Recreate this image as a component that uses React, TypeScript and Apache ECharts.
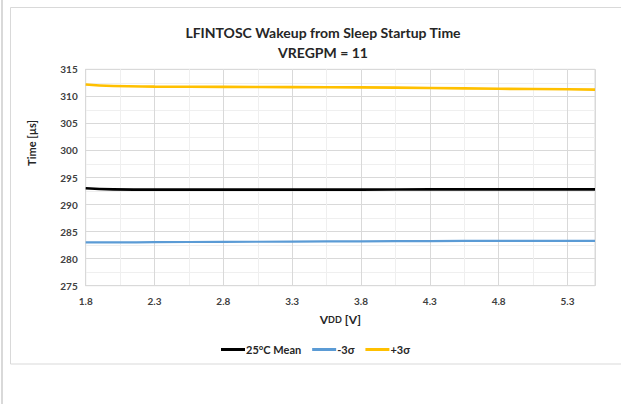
import React, { useEffect, useRef } from "react";
import * as echarts from "echarts";

const vdd = [1.8, 2.0, 2.3, 2.8, 3.3, 3.8, 4.3, 4.8, 5.3, 5.5];
const meanVals = [293.0, 292.8, 292.75, 292.75, 292.75, 292.75, 292.8, 292.8, 292.8, 292.8];
const minusVals = [283.0, 283.0, 283.05, 283.1, 283.15, 283.2, 283.25, 283.3, 283.3, 283.3];
const plusVals = [312.2, 311.9, 311.8, 311.75, 311.7, 311.65, 311.55, 311.4, 311.3, 311.25];
const seriesNames = ["25°C Mean", "-3σ", "+3σ"];
const seriesColors = ["#000000", "#5b9bd5", "#ffc000"];
const xStart = 1.8;
const xEnd = 5.5;
const yMin = 275;
const yMax = 315;

const FONT = "Lato, 'Open Sans', sans-serif";

export default function App() {
  const ref = useRef<HTMLDivElement>(null);
  useEffect(() => {
    document.body.style.margin = "0";
    const chart = echarts.init(ref.current!, null, { renderer: "svg" });
    const toPts = (vals: number[]) => vdd.map((x, i) => [+(x - xStart).toFixed(3), vals[i]]);
    const allVals = [meanVals, minusVals, plusVals];
    chart.setOption({
      animation: false,
      textStyle: { fontFamily: FONT },
      graphic: [
        { type: "rect", shape: { x: 1, y: 0, width: 2, height: 404 }, style: { fill: "#d9d9d9" }, silent: true },
        { type: "rect", shape: { x: 10.5, y: 7.5, width: 640, height: 356.5 }, style: { fill: "none", stroke: "#d9d9d9", lineWidth: 1 }, silent: true },
        {
          type: "text", x: 323, y: 32,
          style: { text: "LFINTOSC Wakeup from Sleep Startup Time", align: "center", verticalAlign: "middle", fontSize: 14, fontWeight: "bold", fontFamily: FONT, fill: "#262626" },
        },
        {
          type: "text", x: 323, y: 52,
          style: { text: "VREGPM = 11", align: "center", verticalAlign: "middle", fontSize: 14, fontWeight: "bold", fontFamily: FONT, fill: "#262626" },
        },
        {
          type: "text", x: 31, y: 143, rotation: Math.PI / 2,
          style: { text: "Time [µs]", align: "center", verticalAlign: "middle", fontSize: 11, fontWeight: "bold", fontFamily: FONT, fill: "#262626" },
        },
      ],
      grid: { left: 85.7, right: 26, top: 69.3, bottom: 118.3, show: true, borderColor: "#d9d9d9", borderWidth: 1 },
      legend: {
        left: 216, top: 339,
        icon: "rect",
        itemWidth: 24, itemHeight: 3, itemGap: 11,
        textStyle: { fontSize: 11, fontWeight: "bold", color: "#262626", fontFamily: FONT, padding: [0, 0, 0, -4] },
        data: seriesNames,
      },
      xAxis: [
        {
          type: "value", min: 0, max: +(xEnd - xStart).toFixed(3), interval: 0.5, z: 2,
          axisLine: { show: true, lineStyle: { color: "#d9d9d9" } },
          axisTick: { show: false },
          axisLabel: { formatter: (v: number) => (v + xStart).toFixed(1), showMaxLabel: false, fontSize: 10, fontWeight: "bold", color: "#404040", margin: 10, fontFamily: FONT },
          splitLine: { show: true, lineStyle: { color: "#d9d9d9", width: 1 } },
          name: "{v|V}{d|DD} {v|[V]}",
          nameLocation: "middle", nameGap: 28,
          nameTextStyle: {
            rich: {
              v: { fontSize: 12, fontWeight: "bold", color: "#262626", fontFamily: FONT },
              d: { fontSize: 9, fontWeight: "bold", color: "#262626", fontFamily: FONT },
            },
          },
        },
        {
          type: "value", min: 0, max: +(xEnd - xStart).toFixed(3), interval: 0.25, z: 0, position: "bottom",
          axisLine: { show: false }, axisTick: { show: false }, axisLabel: { show: false },
          splitLine: { show: true, lineStyle: { color: "#efefef", width: 1 } },
        },
      ],
      yAxis: {
        type: "value", min: yMin, max: yMax, interval: 5,
        axisLine: { show: true, lineStyle: { color: "#d9d9d9" } },
        axisTick: { show: false },
        axisLabel: { fontSize: 10, fontWeight: "bold", color: "#404040", margin: 8, fontFamily: FONT },
        splitLine: { show: true, lineStyle: { color: "#d9d9d9", width: 1 } },
        minorTick: { show: false, splitNumber: 2 },
        minorSplitLine: { show: true, lineStyle: { color: "#efefef", width: 1 } },
      },
      series: seriesNames.map((name, i) => ({
        name, type: "line", xAxisIndex: 0, symbol: "none", smooth: true,
        data: toPts(allVals[i]),
        color: seriesColors[i],
        lineStyle: { color: seriesColors[i], width: i === 1 ? 2.2 : 2.6 },
        z: 3 + (2 - i),
      })),
    });
    return () => chart.dispose();
  }, []);
  return <div ref={ref} style={{ width: 621, height: 404 }} />;
}
